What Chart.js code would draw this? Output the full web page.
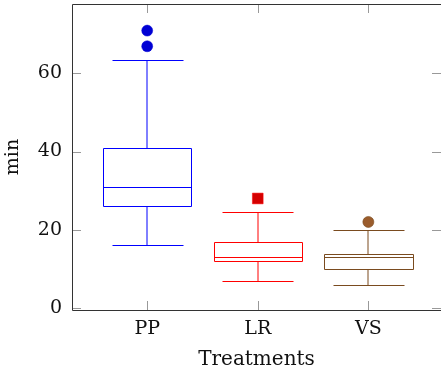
<!DOCTYPE html>
<html>
<head>
<meta charset="utf-8">
<script src="https://cdn.jsdelivr.net/npm/chart.js@4.4.1/dist/chart.umd.min.js"></script>
<style>
  html, body { margin: 0; padding: 0; background: #fff; }
  #wrap { width: 441px; height: 376px; }
</style>
</head>
<body>
<div id="wrap"><canvas id="boxChart"></canvas></div>
<script>
const categories = ["PP", "LR", "VS"];
const lowerWhisker = [16, 6.9, 5.9];
const lowerQuartile = [26, 12, 9.9];
const median = [30.9, 13, 13];
const upperQuartile = [40.9, 16.9, 13.9];
const upperWhisker = [63.4, 24.5, 20];
const outliersPP = [70.9, 66.9];
const outliersLR = [28];
const outliersVS = [22];
const yTicks = [0, 20, 40, 60];

const lineColors = ["#0000ff", "#ff0000", "#7a4b1f"];
const FONT = "'DejaVu Serif', serif";

const px = (v) => Math.round(v) + 0.5;

// box, whiskers and median drawn from the arrays above
const boxPlugin = {
    id: "boxes",
    beforeDatasetsDraw(chart) {
        const { ctx, scales: { x, y } } = chart;
        ctx.save();
        ctx.lineWidth = 1;
        categories.forEach((c, i) => {
            const cx = Math.round(x.getPixelForValue(i + 1));
            const bx0 = px(x.getPixelForValue(i + 1 - 0.4));
            const bx1 = px(x.getPixelForValue(i + 1 + 0.4));
            const wx0 = px(x.getPixelForValue(i + 1 - 0.32));
            const wx1 = px(x.getPixelForValue(i + 1 + 0.32));
            const yLw = px(y.getPixelForValue(lowerWhisker[i]));
            const yQ1 = px(y.getPixelForValue(lowerQuartile[i]));
            const yMd = px(y.getPixelForValue(median[i]));
            const yQ3 = px(y.getPixelForValue(upperQuartile[i]));
            const yUw = px(y.getPixelForValue(upperWhisker[i]));
            ctx.strokeStyle = lineColors[i];
            ctx.beginPath();
            ctx.rect(bx0, yQ3, bx1 - bx0, yQ1 - yQ3);
            ctx.moveTo(bx0, yMd); ctx.lineTo(bx1, yMd);
            ctx.moveTo(wx0, yUw); ctx.lineTo(wx1, yUw);
            ctx.moveTo(wx0, yLw); ctx.lineTo(wx1, yLw);
            ctx.stroke();
            // vertical whiskers look softer in the reference
            ctx.beginPath();
            ctx.moveTo(cx, yQ3); ctx.lineTo(cx, yUw);
            ctx.moveTo(cx, yQ1); ctx.lineTo(cx, yLw);
            ctx.stroke();
        });
        ctx.restore();
    },
    afterDraw(chart) {
        // pgfplots-like frame with inward ticks
        const { ctx, chartArea: a, scales: { x, y } } = chart;
        ctx.save();
        ctx.lineWidth = 1;
        ctx.strokeStyle = "#999";
        ctx.beginPath();
        categories.forEach((c, i) => {
            const tx = px(x.getPixelForValue(i + 1));
            ctx.moveTo(tx, a.bottom); ctx.lineTo(tx, a.bottom - 9);
            ctx.moveTo(tx, a.top); ctx.lineTo(tx, a.top + 9);
        });
        yTicks.forEach((v) => {
            const ty = px(y.getPixelForValue(v));
            ctx.moveTo(a.left, ty); ctx.lineTo(a.left + 9, ty);
            ctx.moveTo(a.right, ty); ctx.lineTo(a.right - 9, ty);
        });
        ctx.stroke();
        ctx.strokeStyle = "#333";
        ctx.beginPath();
        ctx.moveTo(a.right + 5, px(a.top));
        ctx.lineTo(px(a.left), px(a.top));
        ctx.lineTo(px(a.left), px(a.bottom));
        ctx.lineTo(a.right + 5, px(a.bottom));
        ctx.stroke();
        ctx.restore();
    },
};

const ctx = document.getElementById("boxChart").getContext("2d");
new Chart(ctx, {
    type: "scatter",
    data: {
        datasets: [
            {
                data: outliersPP.map((v) => ({ x: 1, y: v })),
                pointStyle: "circle",
                pointRadius: 5.5,
                backgroundColor: "#0000d4",
                borderColor: "#0000d4",
                borderWidth: 0.5,
            },
            {
                data: outliersLR.map((v) => ({ x: 2, y: v })),
                pointStyle: "rect",
                pointRadius: 7.6,
                backgroundColor: "#d40000",
                borderColor: "#ff0000",
                borderWidth: 0.5,
            },
            {
                data: outliersVS.map((v) => ({ x: 3, y: v })),
                pointStyle: "circle",
                pointRadius: 5.5,
                backgroundColor: "#9a5c2c",
                borderColor: "#7a4b1f",
                borderWidth: 0.6,
            },
            {
                data: outliersVS.map((v) => ({ x: 3, y: v })),
                pointStyle: "crossRot",
                pointRadius: 5.5,
                borderColor: "#6a3f18",
                borderWidth: 0.6,
            },
        ],
    },
    options: {
        responsive: true,
        maintainAspectRatio: false,
        animation: false,
        layout: { autoPadding: false, padding: { top: 4, right: 0, left: 0, bottom: 0 } },
        plugins: { legend: { display: false }, tooltip: { enabled: false } },
        scales: {
            x: {
                type: "linear",
                min: 0.32,
                max: 3.657,
                grid: { display: false },
                border: { display: false },
                afterBuildTicks: (s) => { s.ticks = categories.map((c, i) => ({ value: i + 1 })); },
                afterFit: (s) => { s.height = 66; s.paddingLeft = 0; s.paddingRight = 0; },
                ticks: {
                    padding: 0,
                    color: "#111",
                    font: { family: FONT, size: 19 },
                    callback: (v) => categories[v - 1],
                },
                title: {
                    display: true,
                    text: "Treatments",
                    color: "#111",
                    font: { family: FONT, size: 20 },
                    padding: { top: 0, bottom: 4 },
                },
            },
            y: {
                min: -0.5,
                max: 77.7,
                grid: { display: false },
                border: { display: false },
                afterBuildTicks: (s) => { s.ticks = yTicks.map((v) => ({ value: v })); },
                afterFit: (s) => { s.width = 72; s.paddingTop = 0; s.paddingBottom = 0; },
                ticks: {
                    padding: 2,
                    color: "#111",
                    font: { family: FONT, size: 19 },
                },
                title: {
                    display: true,
                    text: "min",
                    color: "#111",
                    font: { family: FONT, size: 19 },
                    padding: { top: 2, bottom: 0 },
                },
            },
        },
    },
    plugins: [boxPlugin],
});
</script>
</body>
</html>
